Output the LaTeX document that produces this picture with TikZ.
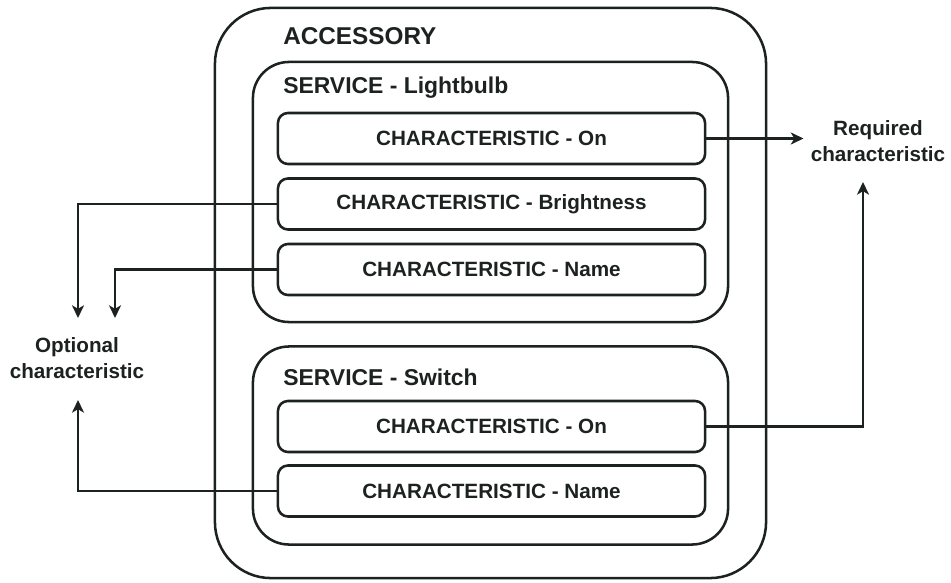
\documentclass[tikz,border=0pt]{standalone}
\usepackage{fontspec}
\setmainfont{Liberation Sans}
\usetikzlibrary{arrows.meta,calc}
\definecolor{ink}{RGB}{28,34,32}
\newcommand\accfont{\bfseries\fontsize{17.3}{20}\selectfont}
\newcommand\svcfont{\bfseries\fontsize{16.3}{19}\selectfont}
\newcommand\charfont{\bfseries\fontsize{14.7}{18.5}\selectfont}
\tikzset{
  box/.style={draw=ink, line width=1.8pt, inner sep=0pt},
  accbox/.style={box, rounded corners=1.4cm, minimum width=13.775cm, minimum height=14.25cm},
  svcbox/.style={box, rounded corners=0.9cm, minimum width=11.875cm},
  charbox/.style={box, rounded corners=0.25cm, minimum width=10.675cm, minimum height=1.275cm,
    text=ink, font=\charfont},
  title/.style={anchor=west, inner sep=0pt, text=ink},
  side/.style={align=center, inner xsep=5pt, text=ink, font=\charfont},
  link/.style={draw=ink, line width=1.6pt, -{Stealth[length=9pt,width=8.5pt,inset=2.5pt]}}
}
\begin{document}
\begin{tikzpicture}[x=0.025cm,y=-0.025cm]
  \useasboundingbox (0,0) rectangle (951,583);

  % accessory
  \node[accbox] (acc) at (490.5,293) {};
  \node[title, font=\accfont] (accLbl) at (283,36) {ACCESSORY};

  % service - lightbulb
  \node[svcbox, minimum height=6.5cm] (svcLight) at (490.5,192) {};
  \node[title, font=\svcfont] (svcLightLbl) at (283,88) {SERVICE - Lightbulb};
  \node[charbox] (lightOn) at (491.5,138.5) {CHARACTERISTIC - On};
  \node[charbox] (lightBright) at (491.5,204) {CHARACTERISTIC - Brightness};
  \node[charbox] (lightName) at (491.5,269.5) {CHARACTERISTIC - Name};

  % service - switch
  \node[svcbox, minimum height=4.95cm] (svcSwitch) at (490.5,445.5) {};
  \node[title, font=\svcfont] (svcSwitchLbl) at (283,377) {SERVICE - Switch};
  \node[charbox] (switchOn) at (491.5,426.5) {CHARACTERISTIC - On};
  \node[charbox] (switchName) at (491.5,491) {CHARACTERISTIC - Name};

  % side labels
  \node[side] (optional) at (77,358) {Optional\\characteristic};
  \node[side] (required) at (878,141) {Required\\characteristic};

  % optional links
  \draw[link] (lightBright.west) -| ($(optional.center)+(1,-40)$);
  \draw[link] (lightName.west) -| ($(optional.center)+(38,-40)$);
  \draw[link] (switchName.west) -| ($(optional.center)+(1,42)$);

  % required links
  \draw[link] (lightOn.east) -- (lightOn.east -| required.west);
  \draw[link] (switchOn.east) -| ($(required.center)+(-15,41)$);
\end{tikzpicture}
\end{document}
